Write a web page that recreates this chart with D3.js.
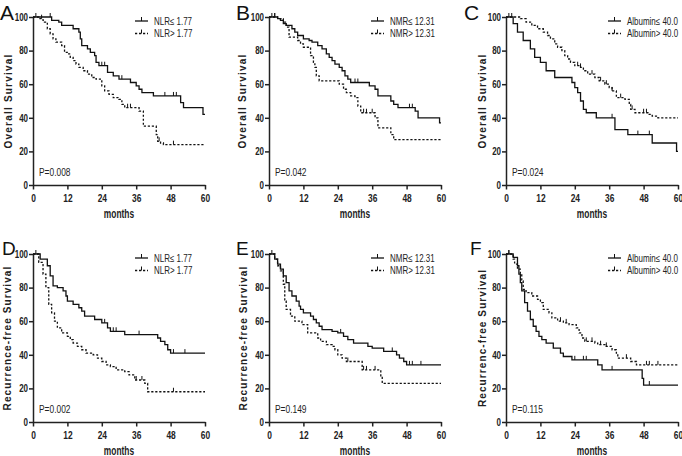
<!DOCTYPE html>
<html>
<head>
<meta charset="utf-8">
<script src="https://cdn.jsdelivr.net/npm/d3@7/dist/d3.min.js"></script>
<style>
  *{ margin: 0; padding: 0; }
  body{ background: #fff; }
  svg text{ font-family: "Liberation Sans", Arial, sans-serif; fill: #222; }
  .axis path, .axis line{ stroke: #222; stroke-width: 1.5px; }
  .axis text{ font-size: 10.5px; font-weight: bold; }
  .ylab{ font-size: 10px; font-weight: bold; }
  .xlab{ font-size: 12px; font-weight: bold; }
  .letter{ fill: #111; }
  .legend text, .pval{ font-size: 10.5px; }
</style>
</head>
<body>
<div id="chart"></div>
<script>
// time in months, survival in %
const xTicks = [0, 12, 24, 36, 48, 60];
const yTicks = [0, 20, 40, 60, 80, 100];

const panelLetters = ["A", "B", "C", "D", "E", "F"];
const yTitles = ["Overall Survival", "Overall Survival", "Overall Survival",
  "Recurrence-free Survival", "Recurrence-free Survival", "Recurrenc-free Survival"];
const legendLow = ["NLR\u2264 1.77", "NMR\u2264 12.31", "Albumin\u2264 40.0", "NLR\u2264 1.77", "NMR\u2264 12.31", "Albumin\u2264 40.0"];
const legendHigh = ["NLR> 1.77", "NMR> 12.31", "Albumin> 40.0", "NLR> 1.77", "NMR> 12.31", "Albumin> 40.0"];
const pValues = ["P=0.008", "P=0.042", "P=0.024", "P=0.002", "P=0.149", "P=0.115"];

const aLow = [[0,100],[6.5,98],[9,97],[10,95],[14,93],[16,91],[16.5,87],[17,83],[19,81],[20,79],[21.5,77],[22,73],[23,71],[26,67],[28,65],[30,63],[34,61],[36,59],[37,57],[38,55],[42,53],[51.5,49],[52.5,46],[59.3,42],[60,42]];
const aLowCens = [1, 6, 24, 25, 31, 46, 49, 50];
const aHigh = [[0,100],[2,99],[3.5,98],[4,97],[5,93],[6,90],[7,87],[8,85],[10,83],[11,79],[12,78],[13,76],[14,74],[15,72],[16,70],[17.5,68],[19,66],[20.5,64],[22,63],[24,59],[25,56],[26.5,54],[28,52],[30,51],[31,48],[32,46],[37,44],[38.5,35],[43,30],[43.5,26],[44.5,25],[45.5,24],[60,24]];
const aHighCens = [3, 33, 34, 44, 49];

const bLow = [[0,100],[3,99],[4,98],[5,96],[6,95],[8,93],[9,91],[10,89],[12,87],[14,86],[15,85],[17,83],[18.5,81],[20,78],[21,76],[22,74],[23,72],[24.5,70],[25.5,68],[26.5,65],[27.5,63],[28.5,61],[35,59],[37,57],[38,53],[42.5,50],[43.5,48],[45,46],[51,44],[52,40],[59.5,37],[60,37]];
const bLowCens = [1, 2, 30, 31, 49, 50];
const bHigh = [[0,100],[3,99],[5,97],[6,94],[7,88],[10,86],[11,84],[12,82],[14.5,77],[15.5,73],[16,70],[16.5,65],[17.5,62],[24.5,60],[26,57],[27,55],[28.5,53],[30,52],[31,47],[32,43],[37,40],[38,34],[42.5,30],[43.5,27],[60,27]];
const bHighCens = [2, 33, 34, 36];

const cLow = [[0,100],[2.5,96],[4,91],[6,86],[8.5,81],[10,76],[12,73],[14,68],[17,64],[23,61],[24,58],[25,55],[26,50],[27,45],[28,43],[31.5,40],[38,33],[42.5,30],[51,25],[59.5,20],[60,20]];
const cLowCens = [1, 37, 46, 50];
const cHigh = [[0,100],[5,99],[7,97],[9,95],[11,93],[13,91],[14.5,89],[15.5,87],[17,84],[18,82],[19.5,80],[20.5,77],[21.5,75],[22.5,73],[24,71],[26,70],[27,68],[28.5,66],[31,64],[32.5,62],[34.5,60],[36,58],[37,56],[38.5,52],[41.5,51],[43,48],[43.5,45],[45,43],[49.5,42],[51,41],[53,40],[60,40]];
const cHighCens = [2, 25, 26, 30, 33, 35, 37, 40, 44, 48, 49];

const dLow = [[0,100],[2.5,97],[5,93],[6,87],[7,81],[8.5,80],[10.5,78],[11.5,75],[12,72],[14,70],[16,68],[17,66],[18,63],[21.5,61],[24,59],[26,56],[27,54],[32,52],[43.5,50],[44.5,48],[46,46],[47,43],[48,41],[60,41]];
const dLowCens = [1, 25, 28, 29, 37, 49, 53];
const dHigh = [[0,100],[2,95],[3.5,88],[4.5,80],[5.5,70],[6.5,65],[7.5,60],[8.5,56],[10,53],[12,51],[13,49],[14,47],[15.5,45],[17,43],[18.5,41],[21,40],[22.5,38],[24,36],[25.5,34],[27,33],[29,31],[32,30],[33.5,28],[35.5,25],[39,23],[40,18],[60,18]];
const dHighCens = [36, 38, 49];

const eLow = [[0,100],[2,97],[3,94],[4,91],[5,87],[6,83],[7,78],[8,75],[9.5,72],[10.5,69],[11,67],[12,65],[14.5,63],[15.5,61],[16.5,59],[17.5,57],[18.5,55],[22,54],[24,53],[26,51],[27.5,49],[29.5,47],[34.5,45],[36,44],[40,42],[44.5,40],[45.5,38],[47,36],[48,34],[60,34]];
const eLowCens = [1, 25, 43, 49, 50, 53];
const eHigh = [[0,100],[2,97],[3,93],[4,90],[5,82],[5.5,72],[6,67],[7.5,63],[9,60],[11.5,58],[13.5,53],[17,50],[18,48],[20,46],[22,45],[23,43],[24,40],[25.5,38],[27,36],[32.5,31],[39,27],[39.5,23],[60,23]];
const eHighCens = [27.5, 33, 34, 37];

const fLow = [[0,100],[2.5,98],[4,93],[4.5,88],[5,83],[5.5,78],[6.5,71],[7.5,66],[8.5,61],[9.5,57],[10.5,54],[11.5,51],[12.5,49],[14,47],[16.5,44],[19,41],[20,39],[23,37],[32,34],[33.5,31],[47.5,26],[48,22],[60,22]];
const fLowCens = [1, 24, 27, 28, 37, 50];
const fHigh = [[0,100],[2.5,97],[3,94],[4,91],[5,88],[5.5,84],[6,79],[7,77],[9,75],[11,73],[12,71],[13,67],[15,65],[16,62],[18,60],[20,59],[22,58],[24.5,56],[25.5,53],[26.5,50],[27.5,48],[31,47],[32,46],[34.5,45],[37,43],[38.5,41],[39,38],[43.5,36],[45.5,34],[60,34]];
const fHighCens = [1, 19, 21, 28, 30, 33, 35, 42, 49, 50, 53];

const lowCurves = [aLow, bLow, cLow, dLow, eLow, fLow];
const lowCens = [aLowCens, bLowCens, cLowCens, dLowCens, eLowCens, fLowCens];
const highCurves = [aHigh, bHigh, cHigh, dHigh, eHigh, fHigh];
const highCens = [aHighCens, bHighCens, cHighCens, dHighCens, eHighCens, fHighCens];

// layout
let colX = [33, 269, 506],
    rowTop = [17, 254],
    plotW = 172, plotH = 168;
let letterX = [0, 236, 464, 2, 236, 470],
    ytitleX = [8, 242, 482, 7, 243, 482];

let svg = d3.select("#chart").append("svg")
  .attr("width", 682).attr("height", 456);

// value at time t on a step curve
function survAt(curve, t){
  let v = curve[0][1];
  curve.forEach(function(p){ if(p[0] <= t) v = p[1]; });
  return v;
}

// no narrow font installed: squeeze texts horizontally
function squeeze(sel, k){
  sel.each(function(){
    let t = d3.select(this);
    let x = +t.attr("x") || 0, y = +t.attr("y") || 0;
    t.attr("x", 0).attr("y", 0)
      .attr("transform", "translate(" + x + "," + y + ") scale(" + k + ",1)");
  });
}

panelLetters.forEach(function(letter, i){
  let col = i % 3, row = Math.floor(i / 3);
  let g = svg.append("g")
    .attr("transform", "translate(" + colX[col] + "," + rowTop[row] + ")");

  let x = d3.scaleLinear().domain([0, 60]).range([0, plotW]);
  let y = d3.scaleLinear().domain([0, 100]).range([plotH, 0]);

  let xa = g.append("g").attr("class", "axis")
    .attr("transform", "translate(0," + plotH + ")")
    .call(d3.axisBottom(x).tickValues(xTicks).tickSize(4.5).tickSizeOuter(0).tickPadding(5));
  let ya = g.append("g").attr("class", "axis")
    .call(d3.axisLeft(y).tickValues(yTicks).tickSize(4).tickSizeOuter(0).tickPadding(1));
  squeeze(xa.selectAll("text"), 0.8);
  squeeze(ya.selectAll("text"), 0.76);

  let line = d3.line()
    .x(function(d){ return x(d[0]); })
    .y(function(d){ return y(d[1]); })
    .curve(d3.curveStepAfter);

  let series = [
    {pts: lowCurves[i], cens: lowCens[i], dash: null},
    {pts: highCurves[i], cens: highCens[i], dash: "2.2,1.8"}
  ];

  series.forEach(function(s){
    g.append("path")
      .attr("d", line(s.pts))
      .attr("fill", "none")
      .attr("stroke", "#111")
      .attr("stroke-width", 1.3)
      .attr("stroke-dasharray", s.dash);

    g.selectAll(null).data(s.cens).enter().append("line")
      .attr("x1", function(d){ return x(d); })
      .attr("x2", function(d){ return x(d); })
      .attr("y1", function(d){ return y(survAt(s.pts, d)); })
      .attr("y2", function(d){ return y(survAt(s.pts, d)) - 4; })
      .attr("stroke", "#111")
      .attr("stroke-width", 1);
  });

  // legend
  let lg = g.append("g").attr("class", "legend");
  [legendLow[i], legendHigh[i]].forEach(function(txt, k){
    let ly = 4 + k * 12.5;
    lg.append("line")
      .attr("x1", 102).attr("x2", 115)
      .attr("y1", ly).attr("y2", ly)
      .attr("stroke", "#111").attr("stroke-width", 1.3)
      .attr("stroke-dasharray", k ? "2.2,1.8" : null);
    lg.append("line")
      .attr("x1", 108.5).attr("x2", 108.5)
      .attr("y1", ly).attr("y2", ly - 4)
      .attr("stroke", "#111").attr("stroke-width", 1);
    lg.append("text")
      .attr("x", 121).attr("y", ly + 3.8)
      .text(txt);
  });
  squeeze(lg.selectAll("text"), 0.76);

  let pt = g.append("text").attr("class", "pval")
    .attr("x", 6).attr("y", plotH - 9)
    .text(pValues[i]);
  squeeze(pt, 0.8);

  let mt = g.append("text").attr("class", "xlab")
    .attr("x", plotW / 2).attr("y", plotH + 33)
    .attr("text-anchor", "middle")
    .text("months");
  squeeze(mt, 0.7);

  svg.append("text").attr("class", "ylab")
    .attr("transform", "translate(" + (ytitleX[i] + 4) + "," + (rowTop[row] + plotH / 2) + ") rotate(-90)")
    .attr("text-anchor", "middle")
    .attr("letter-spacing", row ? 1.1 : 1.2)
    .text(yTitles[i]);

  svg.append("text").attr("class", "letter")
    .attr("x", letterX[i]).attr("y", rowTop[row] + (row ? 1 : 3))
    .attr("font-size", row ? 19 : 21)
    .text(letter);
});
</script>
</body>
</html>
